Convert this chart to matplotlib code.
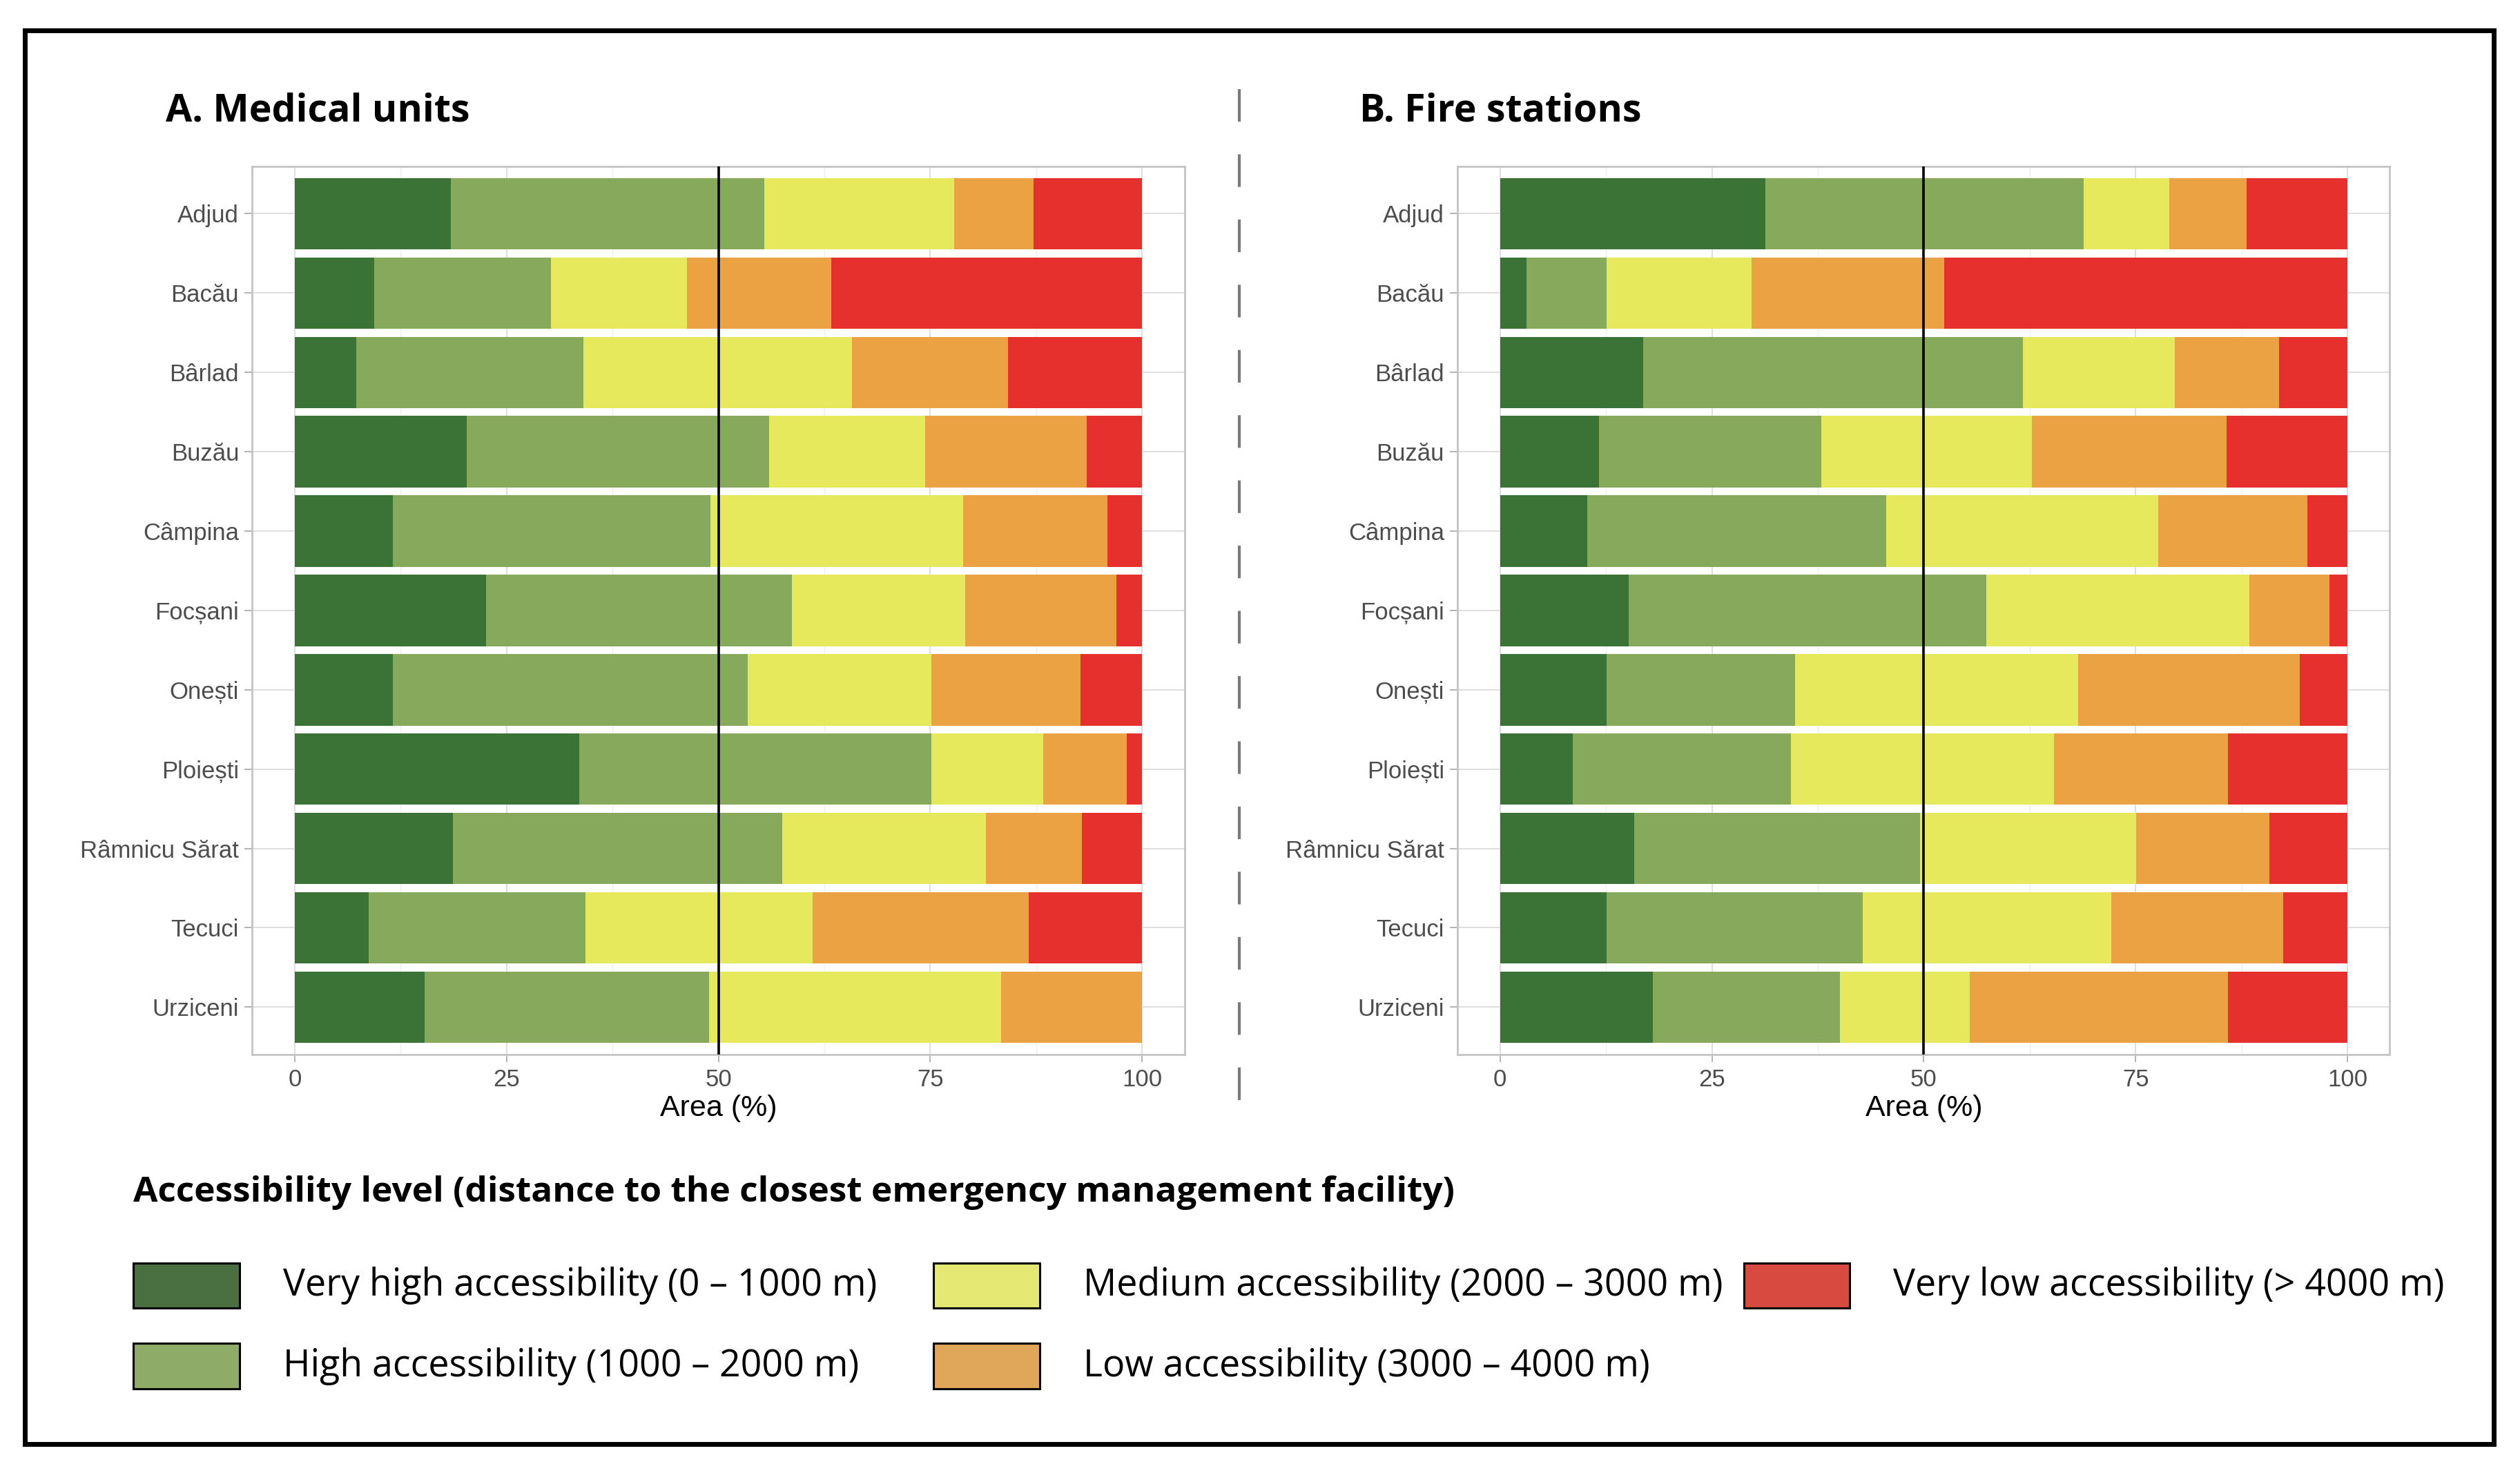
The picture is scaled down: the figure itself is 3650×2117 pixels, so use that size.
import matplotlib
matplotlib.use('Agg')
import numpy as np
import matplotlib.pyplot as plt
from matplotlib.patches import Rectangle
from matplotlib.lines import Line2D

# cities, top to bottom
cities = ['Adjud', 'Bacău', 'Bârlad', 'Buzău', 'Câmpina', 'Focșani',
          'Onești', 'Ploiești', 'Râmnicu Sărat', 'Tecuci', 'Urziceni']

levels = ['Very high accessibility (0 – 1000 m)',
          'High accessibility (1000 – 2000 m)',
          'Medium accessibility (2000 – 3000 m)',
          'Low accessibility (3000 – 4000 m)',
          'Very low accessibility (> 4000 m)']

# share of area (%) per level, panel A
med_very_high = [18.4, 9.4, 7.3, 20.3, 11.6, 22.6, 11.6, 33.6, 18.7, 8.7, 15.3]
med_high = [37.0, 20.8, 26.8, 35.7, 37.5, 36.1, 41.9, 41.5, 38.8, 25.6, 33.6]
med_medium = [22.4, 16.1, 31.7, 18.4, 29.8, 20.4, 21.6, 13.2, 24.1, 26.8, 34.5]
med_low = [9.4, 17.0, 18.4, 19.1, 17.0, 17.9, 17.6, 9.9, 11.3, 25.5, 16.6]
med_very_low = [12.8, 36.7, 15.8, 6.5, 4.1, 3.0, 7.3, 1.8, 7.1, 13.4, 0.0]

# panel B
fire_very_high = [31.3, 3.1, 16.9, 11.7, 10.3, 15.2, 12.6, 8.6, 15.8, 12.6, 18.0]
fire_high = [37.6, 9.5, 44.8, 26.2, 35.3, 42.2, 22.2, 25.7, 33.8, 30.2, 22.1]
fire_medium = [10.1, 17.1, 17.9, 24.9, 32.1, 31.0, 33.4, 31.1, 25.5, 29.3, 15.3]
fire_low = [9.1, 22.7, 12.3, 22.9, 17.6, 9.5, 26.2, 20.5, 15.7, 20.3, 30.5]
fire_very_low = [11.9, 47.6, 8.1, 14.3, 4.7, 2.1, 5.6, 14.1, 9.2, 7.6, 14.1]

bar_colors = ['#3b7336', '#86a95b', '#e6e95b', '#eaa243', '#e5302d']
legend_colors = ['#4a6f40', '#8fab68', '#e5e872', '#e0a65a', '#d8493f']

W, H = 3650, 2117
DW, DH = 1568, 906.5   # layout measured on a 1568 px wide view
fig = plt.figure(figsize=(W / 100, H / 100), dpi=100)

tick_font = 'Liberation Sans'
head_font = ['Open Sans', 'DejaVu Sans']


def fx(px):
    return px / DW


def fy(py):
    return 1 - py / DH


def draw_panel(ax, series):
    y = np.arange(len(cities))
    left = np.zeros(len(cities))
    for vals, col in zip(series, bar_colors):
        vals = np.array(vals)
        ax.barh(y, vals, left=left, height=0.9, color=col, edgecolor='none', zorder=2)
        left += vals
    ax.axvline(50, color='black', lw=2.6, zorder=3)
    ax.set_xlim(-5, 105)
    ax.set_ylim(len(cities) - 0.4, -0.6)
    ax.set_yticks(y)
    ax.set_yticklabels(cities)
    ax.set_xticks([0, 25, 50, 75, 100])
    ax.set_xticks([12.5, 37.5, 62.5, 87.5], minor=True)
    ax.grid(which='major', color='#dedede', lw=1.4, zorder=0)
    ax.grid(which='minor', axis='x', color='#efefef', lw=1.0, zorder=0)
    ax.set_axisbelow(True)
    for s in ax.spines.values():
        s.set_color('#c4c4c4')
        s.set_linewidth(2.0)
    ax.tick_params(which='major', length=8, width=1.4, color='#b3b3b3',
                   labelsize=25, labelcolor='#4d4d4d', pad=6)
    ax.tick_params(which='minor', length=0)
    for lab in ax.get_xticklabels() + ax.get_yticklabels():
        lab.set_fontfamily(tick_font)
    ax.set_xlabel('Area (%)', fontsize=31, family=tick_font, labelpad=4)


ax1 = fig.add_axes([fx(157), fy(654), 580 / DW, 551 / DH])
draw_panel(ax1, [med_very_high, med_high, med_medium, med_low, med_very_low])
ax2 = fig.add_axes([fx(907), fy(654), 580 / DW, 551 / DH])
draw_panel(ax2, [fire_very_high, fire_high, fire_medium, fire_low, fire_very_low])

fig.text(fx(103), fy(75), 'A. Medical units', family=head_font,
         weight='bold', fontsize=40, va='baseline', ha='left')
fig.text(fx(846), fy(75), 'B. Fire stations', family=head_font,
         weight='bold', fontsize=40, va='baseline', ha='left')

# dashed separator
plt.rcParams['lines.scale_dashes'] = False
sep = Line2D([1795 / W, 1795 / W], [1 - 129 / H, 1 - 1626 / H], transform=fig.transFigure,
             color='#7a7a7a', lw=3, linestyle=(0, (34, 34)))
fig.add_artist(sep)

# legend
fig.text(fx(83), fy(745),
         'Accessibility level (distance to the closest emergency management facility)',
         family=head_font, weight='bold', fontsize=37, va='baseline', ha='left')

pos = [(83, 783), (83, 833), (581, 783), (581, 833), (1085, 783)]
for (px, py), lab, col in zip(pos, levels, legend_colors):
    r = Rectangle((fx(px), fy(py + 28)), 66 / DW, 28 / DH,
                  transform=fig.transFigure, facecolor=col, edgecolor='black', lw=2.2)
    fig.add_artist(r)
    fig.text(fx(px + 93), fy(py + 14), lab, family=head_font,
             fontsize=38.6, va='center', ha='left')

# outer frame
frame = Rectangle((36 / W, 1 - 2091 / H), (3612 - 36) / W, (2091 - 44) / H,
                  transform=fig.transFigure, facecolor='none', edgecolor='black', lw=5)
fig.add_artist(frame)

fig.savefig('out.png', dpi=100, facecolor='white')
